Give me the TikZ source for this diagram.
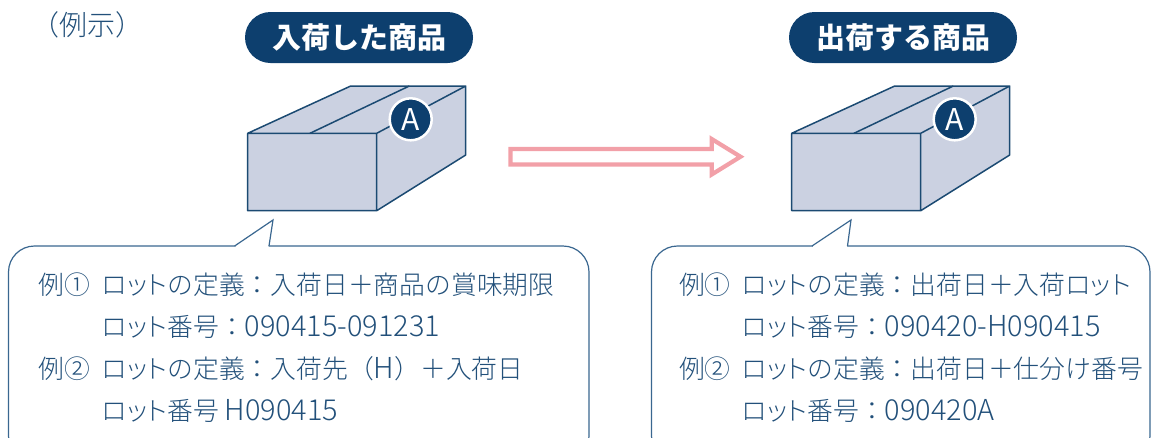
\documentclass[tikz,border=0pt]{standalone}
\usepackage{fontspec}
\usetikzlibrary{shapes.misc}
\newfontfamily\jp{Noto Sans CJK JP}
\IfFontExistsTF{Noto Sans CJK JP Light}
  {\newfontfamily\jplight{Noto Sans CJK JP Light}}
  {\newfontfamily\jplight{Noto Sans CJK JP}}
% proportional katakana and larger Latin figures inside the notes
\newcommand\kana[1]{{\addfontfeature{RawFeature=+palt}#1}}
\newcommand\fig[1]{{\fontsize{28.9}{30}\selectfont#1}}
\definecolor{navy}{HTML}{0D3F6E}
\definecolor{ink}{HTML}{22507A}
\definecolor{carton}{HTML}{CBD1E1}
\definecolor{edge}{HTML}{1B4A72}
\definecolor{balloon}{HTML}{3A6790}
\definecolor{flow}{HTML}{F2A0A8}
\begin{document}
\begin{tikzpicture}[x=1pt,y=-1pt,
  pill/.style={rounded rectangle, fill=navy, minimum width=228pt, minimum height=51pt,
    inner sep=0pt, text=white, font=\jp\bfseries\fontsize{29}{32}\selectfont},
  note/.style={anchor=base west, inner sep=0pt, text=ink, font=\jplight\fontsize{25.8}{30}\selectfont},
  badge/.style={circle, fill=navy, draw=white, line width=2.5pt, minimum size=42pt,
    inner sep=0pt, text=white, font=\jp\fontsize{30}{30}\selectfont},
  balloonline/.style={draw=balloon, line width=1.2pt},
  parcel/.pic={
    % top, side and front faces of the carton
    \filldraw[fill=carton, draw=edge, line width=1.5pt, line join=round]
      (0,0) -- (103,-47.3) -- (218,-47.3) -- (129,0) -- cycle
      (129,0) -- (218,-47.3) -- (218,21.7) -- (129,77.4) -- cycle
      (0,0) rectangle (129,77.4);
    % tape seam across the lid
    \draw[edge, line width=1.5pt] (62.3,0) -- (161.6,-47.3);
    \node[badge] (-badge) at (163,-14) {A};
  }]
\useasboundingbox (0,0) rectangle (1154,437);
\clip (0,0) rectangle (1154,437);

\node[anchor=base, inner sep=0pt, text=ink, font=\jplight\fontsize{28}{28}\selectfont]
  (caption) at (87,35.5) {（例示）};

% headings
\node[pill] (inTitle) at (359,37.5) {入荷した商品};
\node[pill] (outTitle) at (903,37.5) {出荷する商品};

% cartons
\pic (inBox) at (247.7,133.3) {parcel};
\pic (outBox) at (791.7,133.3) {parcel};

% flow arrow between the cartons
\filldraw[fill=white, draw=flow, line width=4.2pt, line join=miter]
  (510.5,148.9) -- (711.7,148.9) -- (711.7,139) -- (740.5,156.7)
  -- (711.7,174.5) -- (711.7,164.5) -- (510.5,164.5) -- cycle;

% left speech balloon
\draw[balloonline, fill=white, rounded corners=26pt] (8.5,246) rectangle (589,462);
\fill[white] (235.5,245) -- (273,220) -- (268.5,245) -- (268.5,247.5) -- (235.5,247.5) -- cycle;
\draw[balloonline, line join=miter] (234.6,246) -- (273,220) -- (269,246);

% right speech balloon
\draw[balloonline, fill=white, rounded corners=26pt] (651.5,246) rectangle (1150,462);
\fill[white] (813,245) -- (851,220) -- (847,245) -- (847,247.5) -- (813,247.5) -- cycle;
\draw[balloonline, line join=miter] (812,246) -- (851,220) -- (847.5,246);

% incoming lot examples
\node[note] (inEx1) at (38.5,294) {例①};
\node[note] (inDef1) at (102,294) {\kana{ロット}の定義：入荷日＋商品の賞味期限};
\node[note] (inNo1) at (102,336) {\kana{ロット}番号：\fig{090415-091231}};
\node[note] (inEx2) at (38.5,378) {例②};
\node[note] (inDef2) at (102,378) {\kana{ロット}の定義：入荷先（\fig{H}）＋入荷日};
\node[note] (inNo2) at (102,420) {\kana{ロット}番号 \fig{H090415}};

% outgoing lot examples
\node[note] (outEx1) at (678.8,294) {例①};
\node[note] (outDef1) at (742,294) {\kana{ロット}の定義：出荷日＋入荷\kana{ロット}};
\node[note] (outNo1) at (742,336) {\kana{ロット}番号：\fig{090420-H090415}};
\node[note] (outEx2) at (678.8,378) {例②};
\node[note] (outDef2) at (742,378) {\kana{ロット}の定義：出荷日＋仕分け番号};
\node[note] (outNo2) at (742,420) {\kana{ロット}番号：\fig{090420A}};
\end{tikzpicture}
\end{document}
